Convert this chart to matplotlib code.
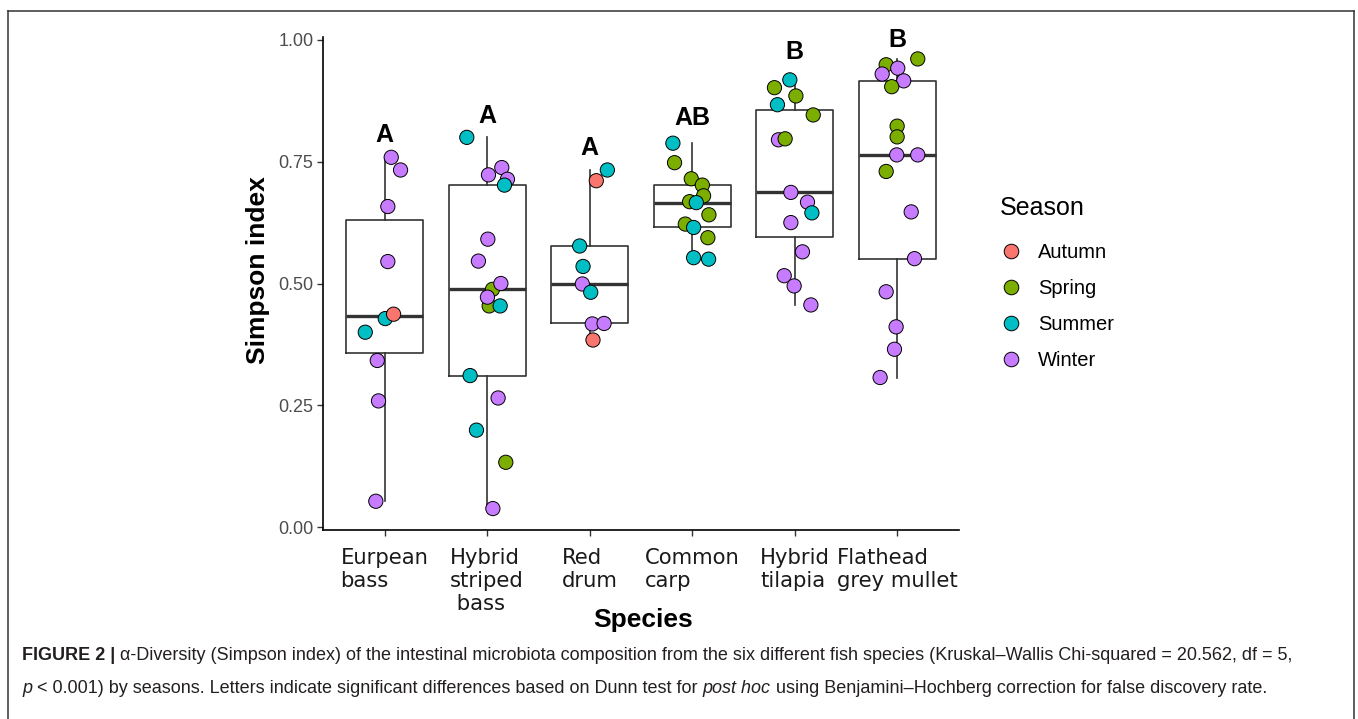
import matplotlib
matplotlib.use("Agg")
import matplotlib.pyplot as plt
from matplotlib.lines import Line2D

W, H = 1358, 719
plt.rcParams["font.family"] = ["Liberation Sans", "DejaVu Sans"]

# ---- data ----
species = ["Eurpean\nbass", "Hybrid\nstriped\n bass", "Red\ndrum",
           "Common\ncarp", "Hybrid\ntilapia", "Flathead\ngrey mullet"]
letters = ["A", "A", "A", "AB", "B", "B"]
letter_y = [0.805, 0.843, 0.778, 0.839, 0.975, 1.0]
season_names = ["Autumn", "Spring", "Summer", "Winter"]
season_codes = ["Au", "Sp", "Su", "Wi"]
season_colors = ["#F8766D", "#7CAE00", "#00BFC4", "#C77CFF"]

# simpson index, season and horizontal jitter of each fish
eb_vals = [0.759, 0.733, 0.658, 0.545, 0.428, 0.437, 0.400, 0.342, 0.259, 0.053]
eb_season = ["Wi", "Wi", "Wi", "Wi", "Su", "Au", "Su", "Wi", "Wi", "Wi"]
eb_jit = [0.065, 0.156, 0.032, 0.032, 0.007, 0.088, -0.188, -0.071, -0.059, -0.085]

hsb_vals = [0.800, 0.738, 0.723, 0.714, 0.702, 0.591, 0.546, 0.488, 0.454, 0.500,
            0.472, 0.454, 0.311, 0.265, 0.199, 0.133, 0.038]
hsb_season = ["Su", "Wi", "Wi", "Wi", "Su", "Wi", "Wi", "Sp", "Sp", "Wi",
              "Wi", "Su", "Su", "Wi", "Su", "Sp", "Wi"]
hsb_jit = [-0.198, 0.143, 0.013, 0.198, 0.169, 0.007, -0.085, 0.052, 0.020, 0.134,
           0.003, 0.127, -0.166, 0.107, -0.104, 0.182, 0.056]

rd_vals = [0.733, 0.711, 0.577, 0.535, 0.499, 0.482, 0.417, 0.418, 0.384]
rd_season = ["Su", "Au", "Su", "Su", "Wi", "Su", "Wi", "Wi", "Au"]
rd_jit = [0.172, 0.064, -0.098, -0.065, -0.072, 0.010, 0.025, 0.140, 0.032]

cc_vals = [0.788, 0.748, 0.715, 0.702, 0.680, 0.668, 0.666, 0.641, 0.622, 0.615,
           0.594, 0.553, 0.550]
cc_season = ["Su", "Sp", "Sp", "Sp", "Sp", "Sp", "Su", "Sp", "Sp", "Su", "Sp", "Su", "Su"]
cc_jit = [-0.189, -0.173, -0.010, 0.098, 0.110, -0.026, 0.039, 0.162, -0.068, 0.013,
          0.152, 0.013, 0.159]

ht_vals = [0.918, 0.902, 0.885, 0.867, 0.846, 0.795, 0.797, 0.687, 0.667, 0.645,
           0.625, 0.565, 0.516, 0.495, 0.456]
ht_season = ["Su", "Sp", "Sp", "Su", "Sp", "Wi", "Sp", "Wi", "Wi", "Su",
             "Wi", "Wi", "Wi", "Wi", "Wi"]
ht_jit = [-0.049, -0.199, 0.010, -0.170, 0.179, -0.160, -0.095, -0.039, 0.123, 0.166,
          -0.039, 0.074, -0.104, -0.007, 0.156]

fgm_vals = [0.961, 0.949, 0.942, 0.930, 0.916, 0.904, 0.823, 0.801, 0.764, 0.764,
            0.730, 0.647, 0.551, 0.483, 0.411, 0.365, 0.307]
fgm_season = ["Sp", "Sp", "Wi", "Wi", "Wi", "Sp", "Sp", "Sp", "Wi", "Wi",
              "Sp", "Wi", "Wi", "Wi", "Wi", "Wi", "Wi"]
fgm_jit = [0.198, -0.110, 0.003, -0.149, 0.061, -0.056, -0.003, -0.003, -0.007, 0.198,
           -0.110, 0.134, 0.166, -0.110, -0.013, -0.029, -0.169]

all_vals = [eb_vals, hsb_vals, rd_vals, cc_vals, ht_vals, fgm_vals]
all_season = [eb_season, hsb_season, rd_season, cc_season, ht_season, fgm_season]
all_jit = [eb_jit, hsb_jit, rd_jit, cc_jit, ht_jit, fgm_jit]

# ---- figure ----
fig = plt.figure(figsize=(W / 100, H / 100), dpi=100)
ax = fig.add_axes([323 / W, 1 - 530 / H, (959 - 323) / W, (530 - 37) / H])

positions = list(range(1, 7))
dark = "#333333"
ax.boxplot(all_vals, positions=positions, widths=0.75, whis=1.5, showfliers=False,
           showcaps=False,
           boxprops=dict(color=dark, lw=1.2),
           whiskerprops=dict(color=dark, lw=1.2),
           medianprops=dict(color=dark, lw=2.4), zorder=1)

color_of = dict(zip(season_codes, season_colors))
for i, (vals, seas, jit) in enumerate(zip(all_vals, all_season, all_jit)):
    xs = [positions[i] + j for j in jit]
    cols = [color_of[s] for s in seas]
    ax.scatter(xs, vals, s=105, c=cols, edgecolors="black", linewidths=0.7, zorder=3)

for i, (lab, ly) in enumerate(zip(letters, letter_y)):
    ax.text(positions[i], ly, lab, ha="center", va="center", fontsize=18,
            fontweight="bold", color="black")

ax.set_xlim(0.4, 6.6)
ax.set_ylim(-0.006, 1.006)
ax.set_yticks([0, 0.25, 0.5, 0.75, 1.0])
ax.set_yticklabels(["0.00", "0.25", "0.50", "0.75", "1.00"])
ax.set_xticks(positions)
ax.set_xticklabels(species, fontsize=15.2, family="DejaVu Sans", color="#1a1a1a",
                   multialignment="left", linespacing=1.2)
for s in ["top", "right"]:
    ax.spines[s].set_visible(False)
for s in ["left", "bottom"]:
    ax.spines[s].set_color("black")
    ax.spines[s].set_linewidth(1.2)
ax.tick_params(axis="both", length=4, width=1.0, color=dark)
ax.tick_params(axis="y", labelsize=13, labelcolor="#4D4D4D", pad=3)
ax.tick_params(axis="x", pad=9)

fig.text(258 / W, 1 - 270 / H, "Simpson index", rotation=90, ha="center", va="center",
         fontsize=19, fontweight="bold")
fig.text(643 / W, 1 - 620 / H, "Species", ha="center", va="center",
         fontsize=19, fontweight="bold")

# legend: title as its own text, entries below
fig.text(1000 / W, 1 - 208 / H, "Season", ha="left", va="center", fontsize=18)
handles = [Line2D([], [], ls="none", marker="o", markersize=10.5, markerfacecolor=c,
                  markeredgecolor="black", markeredgewidth=0.7) for c in season_colors]
leg = fig.legend(handles, season_names, loc="upper left",
                 bbox_to_anchor=(999 / W, 1 - 243 / H), frameon=False,
                 fontsize=14.5, labelspacing=0.85, handletextpad=0.75,
                 handlelength=1.2, borderaxespad=0, borderpad=0)

# outer frame
fc = "#333333"
fig.add_artist(Line2D([8 / W, 8 / W], [0, 1 - 11 / H], transform=fig.transFigure, color=fc, lw=1.1))
fig.add_artist(Line2D([8 / W, 1354 / W], [1 - 11 / H, 1 - 11 / H], transform=fig.transFigure, color=fc, lw=1.1))
fig.add_artist(Line2D([1354 / W, 1354 / W], [0, 1 - 11 / H], transform=fig.transFigure, color=fc, lw=1.1))

# caption, written piece by piece
cap_fam = ["Liberation Sans Narrow", "Liberation Sans"]
line1 = [("FIGURE 2 |", "bold"),
         ("α-Diversity (Simpson index) of the intestinal microbiota composition from the six "
          "different fish species (Kruskal–Wallis Chi-squared = 20.562, df = 5,", "normal")]
line2 = [("p", "italic"),
         ("< 0.001) by seasons. Letters indicate significant differences based on Dunn test for",
          "normal"),
         ("post hoc", "italic"),
         ("using Benjamini–Hochberg correction for false discovery rate.", "normal")]

renderer = fig.canvas.get_renderer()


def draw_line(parts, y, size):
    x = 22
    arts = []
    for txt, style in parts:
        kw = dict(fontsize=size, family=cap_fam, color="#231F20", va="baseline")
        if style == "bold":
            kw["fontweight"] = "bold"
        if style == "italic":
            kw["fontstyle"] = "italic"
        t = fig.text(x / W, y, txt, **kw)
        arts.append(t)
        x += t.get_window_extent(renderer).width
        sp = fig.text(0, 0, "a a", fontsize=size, family=cap_fam)
        sp2 = fig.text(0, 0, "aa", fontsize=size, family=cap_fam)
        x += sp.get_window_extent(renderer).width - sp2.get_window_extent(renderer).width
        sp.remove()
        sp2.remove()
    return x, arts


size = 11.5
end, arts = draw_line(line1, 1 - 660 / H, size)
for a in arts:
    a.remove()
size = size * (1297 - 22) / (end - 22)
draw_line(line1, 1 - 660 / H, size)
draw_line(line2, 1 - 693 / H, size)

fig.savefig("out.png", dpi=100)
